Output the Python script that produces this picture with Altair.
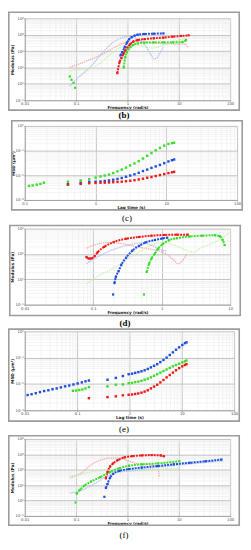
import altair as alt
import pandas as pd

# ---------------- colours ----------------
RED, BLUE, GREEN = "#f01a1a", "#1f4fdc", "#3ade2a"
PINK, LBLUE, LGREEN = "#f4a6a6", "#a9bef2", "#c6f2b0"

# ---------------- panel (b): log10 frequency / log10 modulus ----------------
b_red_lf = [-0.198, -0.154, -0.117, -0.08, -0.043, 0.0, 0.05, 0.11, 0.20, 0.33, 0.51, 0.70, 0.88, 1.04, 1.19]
b_red_lm = [0.65, 1.33, 1.57, 1.82, 2.02, 2.22, 2.41, 2.57, 2.67, 2.73, 2.78, 2.82, 2.88, 2.92, 2.96]
b_blue_lf = [-0.136, -0.105, -0.056, -0.01, 0.03, 0.08, 0.14, 0.20, 0.33, 0.51, 0.70]
b_blue_lm = [1.73, 1.92, 2.22, 2.51, 2.71, 2.84, 2.94, 3.0, 3.04, 3.06, 3.08]
b_green_lf = [-1.123, -1.09, -1.05, -1.02, -0.074, -0.043, -0.012, 0.02, 0.06, 0.11, 0.20, 0.33, 0.51, 0.70, 0.88, 1.07, 1.14]
b_green_lm = [0.45, 0.25, 0.06, -0.24, 1.0, 1.63, 1.92, 2.12, 2.25, 2.37, 2.47, 2.51, 2.53, 2.53, 2.53, 2.55, 2.67]
b_green_breaks = [1, 2, 3, 4]
b_pink_lf = [-1.123, -0.85, -0.54, -0.29, -0.105, 0.0, 0.2, 0.45, 0.70, 0.94, 1.13, 1.19]
b_pink_lm = [1.0, 1.33, 1.73, 2.16, 2.45, 2.55, 2.59, 2.51, 2.45, 2.43, 2.41, 2.18]
b_lblue_lf = [-1.123, -0.97, -0.72, -0.48, -0.29, -0.105, 0.02, 0.14, 0.33, 0.45, 0.51, 0.57, 0.64, 0.70]
b_lblue_lm = [-0.14, 0.35, 1.04, 1.92, 2.51, 2.82, 2.90, 2.80, 2.41, 1.82, 1.53, 1.57, 1.92, 2.27]
b_lgreen_lf = [-1.123, -0.91, -0.72, -0.54, -0.29, -0.105, 0.08, 0.265, 0.45, 0.64, 0.82, 1.0, 1.16]
b_lgreen_lm = [0.80, 0.88, 0.94, 1.24, 1.92, 2.27, 2.41, 2.31, 2.18, 2.27, 2.51, 2.67, 2.80]

# ---------------- panel (c): log10 lag time / log10 MSD ----------------
c_green_lt = [-0.94, -0.89, -0.83, -0.78, -0.73, -0.39, -0.21, -0.09, 0.0, 0.07, 0.13, 0.19, 0.25, 0.31, 0.37,
              0.43, 0.49, 0.55, 0.61, 0.67, 0.73, 0.79, 0.85, 0.91, 0.97, 1.03, 1.08, 1.11]
c_green_lm = [-2.43, -2.41, -2.38, -2.35, -2.30, -2.26, -2.21, -2.16, -2.09, -2.05, -2.01, -1.97, -1.91, -1.84,
              -1.77, -1.69, -1.60, -1.52, -1.43, -1.32, -1.21, -1.10, -0.99, -0.89, -0.80, -0.73, -0.70, -0.68]
c_lt = [-0.39, -0.21, -0.09, 0.0, 0.07, 0.13, 0.19, 0.25, 0.31, 0.37, 0.43, 0.49, 0.55, 0.61, 0.67, 0.73,
        0.79, 0.85, 0.91, 0.97, 1.03, 1.08, 1.11]
c_blue_lm = [-2.36, -2.31, -2.27, -2.26, -2.25, -2.23, -2.21, -2.18, -2.15, -2.11, -2.06, -2.01, -1.96, -1.90,
             -1.83, -1.77, -1.70, -1.64, -1.58, -1.51, -1.44, -1.39, -1.36]
c_red_lm = [-2.38, -2.35, -2.32, -2.31, -2.30, -2.30, -2.29, -2.28, -2.27, -2.26, -2.24, -2.22, -2.20, -2.17,
            -2.14, -2.10, -2.07, -2.03, -1.99, -1.95, -1.91, -1.88, -1.86]

# ---------------- panel (d) ----------------
d_red_lf = [-1.10, -1.065, -1.03, -0.98, -0.935, -0.84, -0.70, -0.52, -0.33, -0.15, 0.04, 0.22, 0.38]
d_red_lm = [0.88, 0.82, 0.82, 0.91, 1.07, 1.28, 1.47, 1.60, 1.67, 1.72, 1.75, 1.76, 1.76]
d_blue_lf = [-0.71, -0.69, -0.67, -0.63, -0.59, -0.52, -0.43, -0.33, -0.24, -0.10, 0.01, 0.08]
d_blue_lm = [-0.60, -0.15, 0.09, 0.32, 0.57, 0.85, 1.13, 1.32, 1.45, 1.55, 1.61, 1.64]
d_blue_breaks = [1]
d_green_lf = [-0.26, -0.22, -0.185, -0.15, -0.10, -0.056, 0.014, 0.106, 0.22, 0.41, 0.59, 0.78, 0.85, 0.89, 0.92]
d_green_lm = [-0.60, 0.29, 0.61, 0.82, 1.01, 1.20, 1.39, 1.54, 1.62, 1.69, 1.72, 1.74, 1.70, 1.55, 1.35]
d_green_breaks = [1]
d_pink_lf = [-1.10, -0.935, -0.80, -0.61, -0.43, -0.24, -0.056, 0.08, 0.175, 0.24, 0.29, 0.34, 0.37]
d_pink_lm = [1.23, 1.39, 1.45, 1.42, 1.32, 1.22, 1.13, 0.97, 0.76, 0.61, 0.69, 0.88, 1.01]
d_lblue_lf = [-1.10, -0.98, -0.80, -0.61, -0.43, -0.29, -0.15, -0.01, 0.08]
d_lblue_lm = [0.61, 0.82, 1.07, 1.26, 1.39, 1.44, 1.35, 1.16, 1.12]
d_lgreen_lf = [-1.10, -0.89, -0.70, -0.52, -0.33, -0.15, -0.01, 0.13, 0.31, 0.45, 0.59, 0.78, 0.92, 0.99]
d_lgreen_lm = [-0.18, 0.19, 0.44, 0.76, 1.07, 1.35, 1.47, 1.39, 1.20, 1.07, 1.26, 1.47, 1.70, 1.85]

# ---------------- panel (e) ----------------
e_dense_lt = [-0.015, 0.05, 0.11, 0.17, 0.23, 0.29, 0.35, 0.41, 0.47, 0.53, 0.59, 0.65, 0.71, 0.77, 0.83,
              0.89, 0.95, 1.01, 1.06, 1.09]
e_blue_lt = [-1.945, -1.87, -1.79, -1.71, -1.63, -1.55, -1.47, -1.39, -1.31, -1.23, -1.15, -1.07, -0.99, -0.91,
             -0.84, -0.775, -0.42, -0.26, -0.125] + e_dense_lt
e_blue_lm = [-2.42, -2.39, -2.35, -2.31, -2.27, -2.24, -2.20, -2.17, -2.13, -2.09, -2.06, -2.02, -1.98, -1.94,
             -1.90, -1.87, -1.84, -1.77, -1.70,
             -1.63, -1.61, -1.58, -1.55, -1.52, -1.48, -1.43, -1.37, -1.31, -1.25, -1.17, -1.09, -1.00, -0.90,
             -0.80, -0.70, -0.61, -0.52, -0.45, -0.42]
e_green_lt = [-1.08, -1.02, -0.96, -0.90, -0.84, -0.775, -0.42, -0.26, -0.125] + e_dense_lt
e_green_lm = [-2.26, -2.25, -2.23, -2.21, -2.17, -2.12, -2.09, -2.03, -2.02,
              -1.97, -1.96, -1.93, -1.91, -1.88, -1.84, -1.80, -1.75, -1.69, -1.63, -1.57, -1.51, -1.45, -1.39,
              -1.33, -1.28, -1.23, -1.18, -1.14, -1.11]
e_red_lt = [-0.775, -0.42, -0.26, -0.125] + e_dense_lt
e_red_lm = [-2.54, -2.50, -2.47, -2.43,
            -2.41, -2.40, -2.38, -2.36, -2.33, -2.29, -2.24, -2.17, -2.10, -2.03, -1.94, -1.85, -1.75, -1.66,
            -1.57, -1.48, -1.40, -1.33, -1.28, -1.25]

# ---------------- panel (f) ----------------
f_red_lf = [-0.42, -0.39, -0.34, -0.28, -0.19, -0.06, 0.09, 0.28, 0.47, 0.65, 0.71]
f_red_lm = [1.44, 1.83, 2.20, 2.41, 2.62, 2.80, 2.88, 2.93, 2.95, 2.93, 2.88]
f_blue_lf = [-0.45, -0.42, -0.39, -0.34, -0.28, -0.155, 0.03, 0.28, 0.59, 0.90, 1.21, 1.52, 1.83]
f_blue_lm = [0.24, 0.82, 1.07, 1.48, 1.73, 1.93, 2.04, 2.14, 2.24, 2.35, 2.45, 2.55, 2.66]
f_blue_breaks = [1]
f_green_lf = [-1.01, -0.99, -0.93, -0.84, -0.71, -0.53, -0.34, -0.155, 0.03, 0.28, 0.59, 1.01]
f_green_lm = [-0.13, 0.45, 0.69, 0.96, 1.23, 1.52, 1.85, 2.10, 2.26, 2.35, 2.41, 2.55]
f_green_breaks = [1]
f_pink_lf = [-1.12, -0.90, -0.71, -0.53, -0.34, -0.155, 0.03, 0.22, 0.47, 0.59, 0.62]
f_pink_lm = [1.54, 1.79, 2.31, 2.62, 2.76, 2.76, 2.55, 2.37, 2.31, 2.14, 1.52]
f_lgreen_lf = [-1.12, -0.90, -0.65, -0.34, -0.03, 0.28, 0.53, 0.71, 1.01]
f_lgreen_lm = [1.44, 1.69, 1.89, 1.95, 1.95, 1.93, 1.95, 2.06, 2.10]
f_lblue_lf = [-1.12, -0.90, -0.65, -0.40, -0.155, 0.09, 0.40, 0.71, 1.02, 1.34, 1.65, 1.86]
f_lblue_lm = [0.49, 0.65, 1.07, 1.58, 1.85, 1.93, 2.06, 2.20, 2.31, 2.41, 2.51, 2.57]

# ---------------- tick labels ----------------
x_lab_2to2 = ["0.01", "0.1", "1", "10", "100"]
x_lab_1to2 = ["0.1", "1", "10", "100"]
x_lab_2to1 = ["0.01", "0.1", "1", "10"]
y_lab_m1to4 = ["10⁻¹", "10⁰", "10¹", "10²", "10³", "10⁴"]
y_lab_m3to0 = ["10⁻³", "10⁻²", "10⁻¹", "10⁰"]
y_lab_m1to2 = ["10⁻¹", "10⁰", "10¹", "10²"]

FONT = "DejaVu Sans"


def sdf(lf, lm, name, breaks=()):
    seg = [sum(1 for b in breaks if i >= b) for i in range(len(lf))]
    return pd.DataFrame({"x": [10 ** v for v in lf], "y": [10 ** v for v in lm],
                         "s": name, "seg": [f"{name}{k}" for k in seg]})


def log_axis(lo, hi, labels, title, title_x=None):
    decades = [round(10.0 ** e, 10) for e in range(lo, hi + 1)]
    ticks = []
    for e in range(lo, hi):
        for m in range(1, 10):
            ticks.append(round(m * 10.0 ** e, 10))
    ticks.append(decades[-1])
    expr = "''"
    for v, lab in reversed(list(zip(decades, labels))):
        expr = f"datum.value == {v!r} ? '{lab}' : ({expr})"
    major = "indexof([" + ",".join(repr(v) for v in decades) + "], datum.value) >= 0"
    kw = dict(values=ticks, labelExpr=expr, title=title, grid=True,
              gridColor={"condition": {"test": major, "value": "#c2c2c2"}, "value": "#ececec"},
              gridWidth={"condition": {"test": major, "value": 1.0}, "value": 0.6},
              tickColor={"condition": {"test": major, "value": "#999"}, "value": "#ffffff00"},
              tickSize=1, labelFontSize=3.8, titleFontSize=4.2, labelFont=FONT, titleFont=FONT,
              titleFontWeight="bold", labelColor="#444", titleColor="#222", labelPadding=0.5,
              titlePadding=0.5, domainColor="#999", domainWidth=0.8, labelFlush=False,
              labelOverlap=False, labelAngle=0)
    if title_x is not None:
        kw.update(titleX=title_x, titleBaseline="middle")
    return alt.Axis(**kw)


def panel(dark, light, xr, yr, xl, yl, xt, yt, w, h, L, R, T, B, lab_y, cell_end, tag, bold, dark_lines,
          title_x, sq=5):
    names = [d[2] for d in dark] + [d[2] for d in light]
    cols = [d[3] for d in dark] + [d[3] for d in light]
    cscale = alt.Scale(domain=names, range=cols)
    X = alt.X("x:Q", scale=alt.Scale(type="log", domain=[10.0 ** xr[0], 10.0 ** xr[1]], nice=False),
              axis=log_axis(xr[0], xr[1], xl, xt))
    Y = alt.Y("y:Q", scale=alt.Scale(type="log", domain=[10.0 ** yr[0], 10.0 ** yr[1]], nice=False),
              axis=log_axis(yr[0], yr[1], yl, yt, title_x))
    C = alt.Color("s:N", scale=cscale, legend=None)
    layers = []
    one = pd.DataFrame({"a": [0]})
    layers.append(alt.Chart(one).mark_rect(opacity=0).encode(
        x=alt.value(-L), x2=alt.value(w + R), y=alt.value(-T), y2=alt.value(cell_end)))
    layers.append(alt.Chart(one).mark_rect(fillOpacity=0, stroke="#9c9c9c", strokeWidth=1.6).encode(
        x=alt.value(-L + 0.8), x2=alt.value(w + R - 0.8), y=alt.value(-T + 0.8), y2=alt.value(h + B)))
    if light:
        ldf = pd.concat([sdf(d[0], d[1], d[2]) for d in light])
        layers.append(alt.Chart(ldf).mark_line(strokeWidth=1.3, strokeDash=[1.4, 0.8], opacity=0.9,
                                               interpolate="monotone").encode(
            x=X, y=Y, color=C, detail="seg:N"))
    ddf = pd.concat([sdf(d[0], d[1], d[2], d[4] if len(d) > 4 else ()) for d in dark])
    if dark_lines:
        layers.append(alt.Chart(ddf).mark_line(strokeWidth=2.0, strokeDash=[2, 1],
                                               interpolate="monotone").encode(
            x=X, y=Y, color=C, detail="seg:N"))
    layers.append(alt.Chart(ddf).mark_square(size=sq, opacity=1).encode(x=X, y=Y, color=C))
    layers.append(alt.Chart(one).mark_text(fontSize=9, font="Liberation Serif",
                                           fontWeight="bold" if bold else "normal", color="#000",
                                           baseline="middle", align="center").encode(
        x=alt.value((-L + w + R) / 2), y=alt.value(lab_y), text=alt.value(tag)))
    return alt.layer(*layers).properties(width=w, height=h)


FREQ, MOD = "Frequency (rad/s)", "Modulus (Pa)"
LAG, MSD = "Lag time (s)", "MSD (μm²)"

pb = panel([(b_red_lf, b_red_lm, "red", RED), (b_blue_lf, b_blue_lm, "blue", BLUE),
            (b_green_lf, b_green_lm, "green", GREEN, b_green_breaks)],
           [(b_pink_lf, b_pink_lm, "pink", PINK), (b_lblue_lf, b_lblue_lm, "lblue", LBLUE),
            (b_lgreen_lf, b_lgreen_lm, "lgreen", LGREEN)],
           (-2, 2), (-1, 4), x_lab_2to2, y_lab_m1to4, FREQ, MOD,
           208, 83, 17, 10, 7, 10, 98, 103, "(b)", True, True, -12.5)

pc = panel([(c_green_lt, c_green_lm, "green", GREEN), (c_lt, c_blue_lm, "blue", BLUE),
            (c_lt, c_red_lm, "red", RED)], [],
           (-1, 2), (-3, 0), x_lab_1to2, y_lab_m3to0, LAG, MSD,
           215, 75, 14, 6, 6, 10, 93.2, 100, "(c)", False, False, -11, sq=6)

pd_ = panel([(d_red_lf, d_red_lm, "red", RED), (d_blue_lf, d_blue_lm, "blue", BLUE, d_blue_breaks),
             (d_green_lf, d_green_lm, "green", GREEN, d_green_breaks)],
            [(d_pink_lf, d_pink_lm, "pink", PINK), (d_lblue_lf, d_lblue_lm, "lblue", LBLUE),
             (d_lgreen_lf, d_lgreen_lm, "lgreen", LGREEN)],
            (-2, 1), (-1, 2), x_lab_2to1, y_lab_m1to2, FREQ, MOD,
            208, 77, 16, 11, 4, 11, 95.3, 101, "(d)", True, True, -12)

pe = panel([(e_blue_lt, e_blue_lm, "blue", BLUE), (e_green_lt, e_green_lm, "green", GREEN),
            (e_red_lt, e_red_lm, "red", RED)], [],
           (-2, 2), (-3, 0), x_lab_2to2, y_lab_m3to0, LAG, MSD,
           212, 80, 17, 6, 3, 11, 99.3, 104, "(e)", False, False, -12.5, sq=6)

pf = panel([(f_red_lf, f_red_lm, "red", RED), (f_blue_lf, f_blue_lm, "blue", BLUE, f_blue_breaks),
            (f_green_lf, f_green_lm, "green", GREEN, f_green_breaks)],
           [(f_pink_lf, f_pink_lm, "pink", PINK), (f_lgreen_lf, f_lgreen_lm, "lgreen", LGREEN),
            (f_lblue_lf, f_lblue_lm, "lblue", LBLUE)],
           (-2, 2), (-1, 4), x_lab_2to2, y_lab_m1to4, FREQ, MOD,
           208, 78, 17, 10, 4, 9.5, 97.3, 102, "(f)", False, True, -12.5)

chart = alt.vconcat(pb, pc, pd_, pe, pf, spacing=0).properties(padding=0, background="white") \
    .configure_view(strokeWidth=0)

chart.save("out.html", embed_options={"renderer": "svg", "actions": False})
